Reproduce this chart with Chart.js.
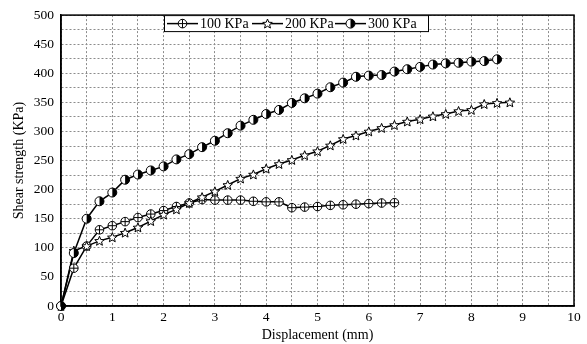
<!DOCTYPE html>
<html>
<head>
    <meta charset="utf-8">
    <title>Shear strength vs displacement</title>
    <script src="https://cdn.jsdelivr.net/npm/chart.js@4.4.1/dist/chart.umd.min.js"></script>
    <style>
        body { margin: 0; background: #fff; }
        canvas { display: block; }
    </style>
</head>
<body>

<canvas id="myChart" width="587" height="344"></canvas>

<script>
    // displacement (mm), readings every 0.25 mm
    let disp = [0, 0.25, 0.5, 0.75, 1, 1.25, 1.5, 1.75, 2, 2.25, 2.5, 2.75, 3, 3.25, 3.5, 3.75,
        4, 4.25, 4.5, 4.75, 5, 5.25, 5.5, 5.75, 6, 6.25, 6.5, 6.75, 7, 7.25, 7.5, 7.75,
        8, 8.25, 8.5, 8.75];

    let labels = ["100 KPa", "200 KPa", "300 KPa"];

    let s100 = [0, 65, 103, 131, 138, 145, 152, 158, 164, 171, 177, 183, 182, 182, 182, 180,
        179, 179, 169, 170, 171, 173, 174, 175, 176, 177, 177.5];
    let s200 = [0, 95, 103, 112, 118, 126, 135, 146, 157, 166, 177, 187, 197, 208, 219, 226,
        236, 244, 251, 259, 266, 276, 287, 293, 300, 306, 311, 317, 321, 326, 330, 335,
        337, 347, 349, 350];
    let s300 = [0, 91, 150, 180, 195, 217, 226, 233, 240, 252, 261, 273, 284, 297, 310, 320,
        330, 337, 349, 357, 365, 376, 384, 394, 396, 397, 403, 407, 411, 415, 417, 418,
        420, 421, 424];

    let font = "'Liberation Serif', 'Times New Roman', serif";
    let kinds = ['plus', 'star', 'half'];

    // draws one marker centred at (x, y)
    function drawMarker(g, type, x, y) {
        g.save();
        g.lineWidth = 1;
        g.strokeStyle = '#000';
        if (type == 'plus') {
            g.beginPath(); g.arc(x, y, 4.3, 0, Math.PI * 2);
            g.fillStyle = '#fff'; g.fill(); g.stroke();
            g.beginPath();
            g.moveTo(x, y - 4.3); g.lineTo(x, y + 4.3);
            g.moveTo(x - 4.3, y); g.lineTo(x + 4.3, y);
            g.stroke();
        } else if (type == 'star') {
            g.beginPath();
            for (let i = 0; i < 10; i++) {
                let r = i % 2 ? 2.2 : 5;
                let a = -Math.PI / 2 + i * Math.PI / 5;
                let px = x + r * Math.cos(a), py = y + 0.4 + r * Math.sin(a);
                if (i == 0) g.moveTo(px, py); else g.lineTo(px, py);
            }
            g.closePath();
            g.fillStyle = '#fff'; g.fill(); g.stroke();
        } else {
            g.beginPath(); g.arc(x, y, 4.5, 0, Math.PI * 2);
            g.fillStyle = '#fff'; g.fill();
            g.beginPath(); g.arc(x, y, 4.5, -Math.PI / 2, Math.PI / 2);
            g.closePath();
            g.fillStyle = '#000'; g.fill();
            g.beginPath(); g.arc(x, y, 4.5, 0, Math.PI * 2); g.stroke();
        }
        g.restore();
    }

    function points(vals) {
        return vals.map((v, i) => ({x: disp[i], y: v}));
    }

    // markers, frame and the legend box inside the plot
    let framePlugin = {
        id: 'frame',
        afterDatasetsDraw(chart) {
            let c = chart.ctx, a = chart.chartArea;
            c.save();
            chart.data.datasets.forEach((ds, i) => {
                chart.getDatasetMeta(i).data.forEach(p => drawMarker(c, kinds[i], p.x, p.y));
            });

            c.strokeStyle = '#000';
            c.lineWidth = 1.5;
            c.strokeRect(a.left, a.top, a.right - a.left, a.bottom - a.top);

            let bx = 164, by = a.top, bw = 264, bh = 16;
            c.fillStyle = '#fff';
            c.fillRect(bx, by, bw, bh);
            c.lineWidth = 1;
            c.strokeRect(bx + 0.5, by + 0.5, bw, bh);

            let starts = [167, 252, 335];
            c.font = '14px ' + font;
            c.textBaseline = 'middle';
            for (let i = 0; i < 3; i++) {
                let x0 = starts[i], y0 = by + bh / 2 + 0.5;
                c.lineWidth = 1.5;
                c.beginPath(); c.moveTo(x0, y0); c.lineTo(x0 + 31, y0); c.stroke();
                drawMarker(c, kinds[i], x0 + 15.5, y0);
                c.fillStyle = '#000';
                c.fillText(labels[i], x0 + 33, y0 + 0.5);
            }
            c.restore();
        }
    };

    let series = [s100, s200, s300];
    let datasets = series.map((s, i) => ({
        label: labels[i],
        data: points(s),
        borderColor: '#000',
        borderWidth: 1.5,
        pointRadius: 0,
        tension: 0,
        fill: false
    }));

    var ctx = document.getElementById('myChart').getContext('2d');
    var myChart = new Chart(ctx, {
        type: 'line',
        data: { datasets: datasets },
        options: {
            responsive: false,
            animation: false,
            layout: { padding: { left: 0, top: 14, right: 13, bottom: 0 } },
            plugins: {
                legend: { display: false },
                tooltip: { enabled: false }
            },
            scales: {
                x: {
                    type: 'linear',
                    min: 0,
                    max: 10,
                    afterFit: function (scale) { scale.height = 38; },
                    ticks: {
                        stepSize: 0.5,
                        autoSkip: false,
                        maxRotation: 0,
                        padding: 3,
                        color: '#000',
                        font: { family: font, size: 13.5 },
                        callback: v => (v % 1 == 0 ? v : '')
                    },
                    grid: { color: '#8c8c8c', lineWidth: 1, drawTicks: false },
                    border: { dash: [2, 2], color: '#000', width: 1.5 },
                    title: {
                        display: true,
                        text: 'Displacement (mm)',
                        color: '#000',
                        font: { family: font, size: 14 },
                        padding: { top: 0, bottom: 0 }
                    }
                },
                y: {
                    min: 0,
                    max: 500,
                    afterFit: function (scale) { scale.width = 61; },
                    ticks: {
                        stepSize: 25,
                        autoSkip: false,
                        padding: 7,
                        color: '#000',
                        font: { family: font, size: 13.5 },
                        callback: v => (v % 50 == 0 ? v : '')
                    },
                    grid: { color: '#8c8c8c', lineWidth: 1, drawTicks: false },
                    border: { dash: [2, 2], color: '#000', width: 1.5 },
                    title: {
                        display: true,
                        text: 'Shear strength (KPa)',
                        color: '#000',
                        font: { family: font, size: 14 },
                        padding: { top: 11, bottom: 0 }
                    }
                }
            }
        },
        plugins: [framePlugin]
    });
</script>

</body>
</html>
